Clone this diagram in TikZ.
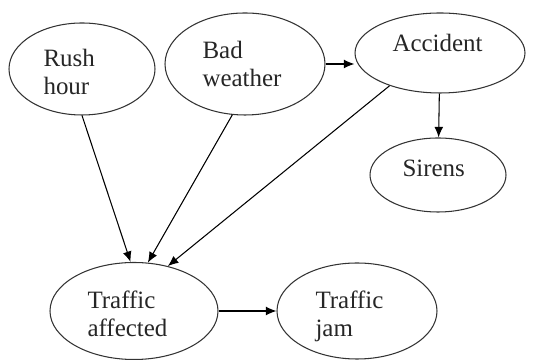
\documentclass[tikz,border=0pt]{standalone}
\usepackage{fontspec}
\setmainfont{Liberation Serif}
\usetikzlibrary{shapes.geometric,arrows.meta}

\begin{document}
\begin{tikzpicture}[
        event/.style={ellipse, draw=black!80, line width=0.6pt, inner sep=0pt},
        txt/.style={anchor=base west, align=left, inner sep=0pt, text=black!85,
            font=\fontsize{14.2}{16}\selectfont},
        >={Latex[length=6pt,width=5pt]},
        every path/.style={line width=0.6pt}
    ]
        \useasboundingbox (0,0) rectangle (10.66,7.2);

        \node[event, minimum width=2.92cm, minimum height=1.84cm] (rush) at (1.64, 5.82) {};
        \node[event, minimum width=3.2cm, minimum height=2.04cm] (bad) at (4.90, 5.92) {};
        \node[event, minimum width=3.4cm, minimum height=1.6cm] (acc) at (8.80, 6.14) {};
        \node[event, minimum width=2.72cm, minimum height=1.48cm] (sirens) at (8.76, 3.70) {};
        \node[event, minimum width=3.36cm, minimum height=1.94cm] (ta) at (2.68, 0.98) {};
        \node[event, minimum width=3.2cm, minimum height=1.92cm] (tj) at (7.14, 0.98) {};

        % two-line texts sit on the baseline of their last line
        \node[txt] (rush-t) at (0.86, 5.30) {Rush\\hour};
        \node[txt] (bad-t) at (4.04, 5.46) {Bad\\weather};
        \node[txt] (acc-t) at (7.84, 6.16) {Accident};
        \node[txt] (sirens-t) at (8.04, 3.66) {Sirens};
        \node[txt] (ta-t) at (1.74, 0.46) {Traffic\\affected};
        \node[txt] (tj-t) at (6.30, 0.46) {Traffic\\jam};

        \draw[->] (rush.south) -- (ta.94);
        \draw[->] (bad.-104) -- (ta.74);
        \draw[->] (acc.-147) -- (ta.53);
        \draw[->] (bad) -- (bad -| acc.west);
        \draw[->] (acc) -- (sirens);
        \draw[->] (ta) -- (tj);
    \end{tikzpicture}
\end{document}
